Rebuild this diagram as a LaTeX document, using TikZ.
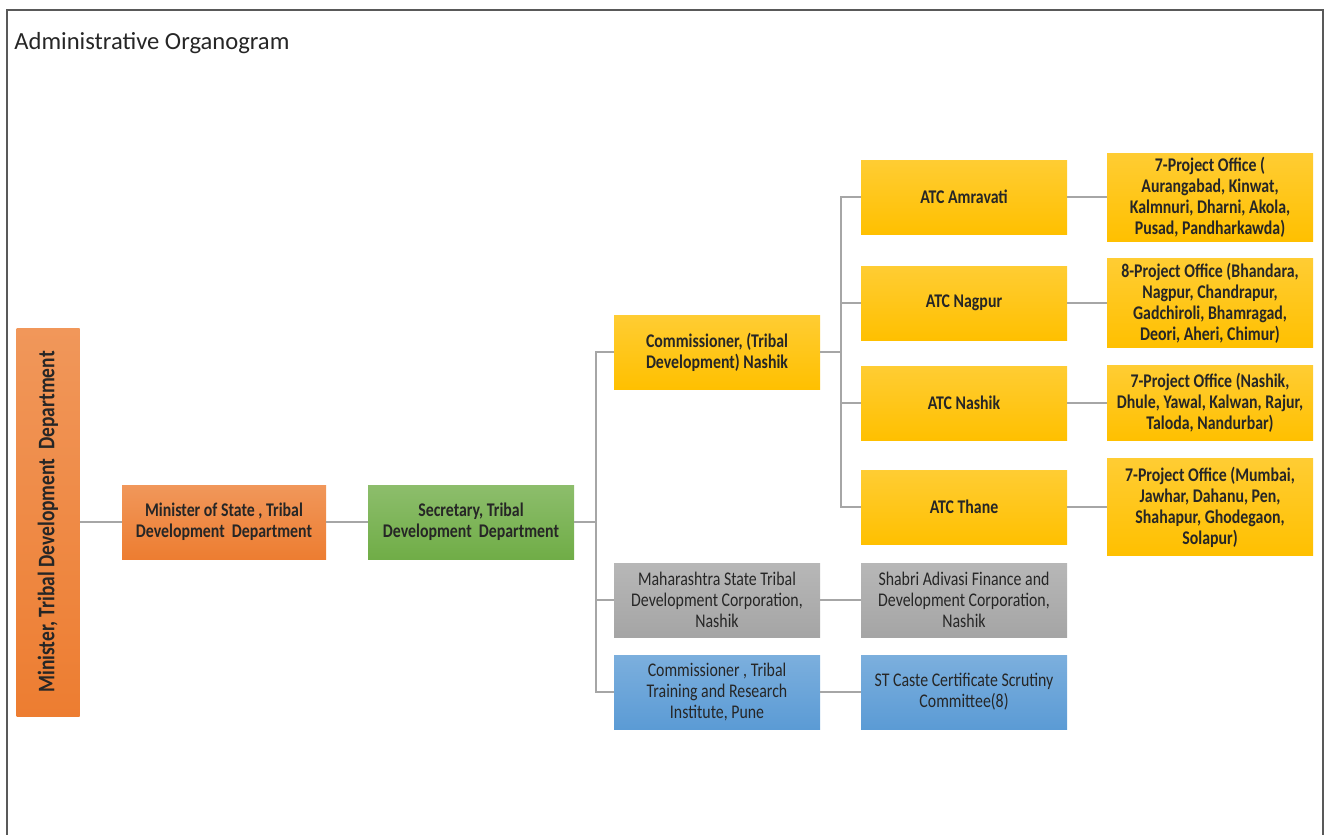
\documentclass[tikz,border=0pt]{standalone}
\usepackage{fontspec}
\setmainfont{Carlito}
\newfontfamily\boxfont{Carlito}[FakeStretch=0.82]
\usepackage{tikz}
\usetikzlibrary{positioning}
\definecolor{orgorange}{HTML}{ED7D31}
\definecolor{orggreen}{HTML}{70AD47}
\definecolor{orggold}{HTML}{FFC000}
\definecolor{orggray}{HTML}{A5A5A5}
\definecolor{orgblue}{HTML}{5B9BD5}
\definecolor{linegray}{HTML}{A6A6A6}
\definecolor{framegray}{HTML}{595959}
\tikzstyle{box2} = [rectangle, align=center, inner sep=2pt, minimum width=4.12cm, minimum height=1.48cm, text=black!85, font=\boxfont\bfseries\fontsize{11}{12}\selectfont]
\tikzstyle{minister2} = [box2, top color=orgorange!80!white, bottom color=orgorange]
\tikzstyle{secretary2} = [box2, top color=orggreen!80!white, bottom color=orggreen]
\tikzstyle{office2} = [box2, top color=orggold!80!white, bottom color=orggold]
\tikzstyle{corp2} = [box2, top color=orggray!80!white, bottom color=orggray, font=\boxfont\fontsize{11}{12}\selectfont]
\tikzstyle{inst2} = [box2, top color=orgblue!80!white, bottom color=orgblue, font=\boxfont\fontsize{11}{12}\selectfont]
\tikzstyle{line2} = [draw=linegray, line width=1.1pt]
\tikzstyle{frame2} = [draw=framegray, line width=1.2pt]

\begin{document}
\begin{tikzpicture}
            \useasboundingbox (0,0) rectangle (26.5,-16.68);
            \draw [frame2] (0.14,-16.9) -- (0.14,-0.2) -- (26.46,-0.2) -- (26.46,-16.9);
            \node (title) [anchor=west, inner sep=0pt, text=black!85, font=\fontsize{14}{16}\selectfont] at (0.28,-0.86) {Administrative Organogram};

            % Nodes
            \node (minister) [minister2, rotate=90, minimum width=7.76cm, minimum height=1.26cm, font=\boxfont\bfseries\fontsize{13.5}{15}\selectfont] at (0.96,-10.44) {Minister, Tribal Development~ Department};
            \node (mos) [minister2, right of=minister, node distance=3.52cm, minimum width=4.08cm] {Minister of State , Tribal\\ Development~ Department};
            \node (sec) [secretary2, right of=mos, node distance=4.94cm] {Secretary, Tribal\\ Development~ Department};

            \node (comm) [office2, right of=sec, node distance=4.92cm, yshift=3.4cm] {Commissioner, (Tribal\\ Development) Nashik};
            \node (mah) [corp2, below of=comm, node distance=4.96cm] {Maharashtra State Tribal\\ Development Corporation,\\ Nashik};
            \node (pune) [inst2, below of=mah, node distance=1.84cm] {Commissioner , Tribal\\ Training and Research\\ Institute, Pune};

            \node (atcA) [office2, right of=comm, node distance=4.94cm, yshift=3.1cm] {ATC Amravati};
            \node (atcN) [office2, below of=atcA, node distance=2.12cm] {ATC Nagpur};
            \node (atcK) [office2, below of=atcN, node distance=2.0cm] {ATC Nashik};
            \node (atcT) [office2, below of=atcK, node distance=2.08cm] {ATC Thane};

            \node (projA) [office2, right of=atcA, node distance=4.92cm, minimum height=1.76cm] {7-Project Office (\\ Aurangabad, Kinwat,\\ Kalmnuri, Dharni, Akola,\\ Pusad, Pandharkawda)};
            \node (projN) [office2, right of=atcN, node distance=4.92cm, minimum height=1.78cm] {8-Project Office (Bhandara,\\ Nagpur, Chandrapur,\\ Gadchiroli, Bhamragad,\\ Deori, Aheri, Chimur)};
            \node (projK) [office2, right of=atcK, node distance=4.92cm, minimum height=1.5cm] {7-Project Office (Nashik,\\ Dhule, Yawal, Kalwan, Rajur,\\ Taloda, Nandurbar)};
            \node (projT) [office2, right of=atcT, node distance=4.92cm, minimum height=1.94cm] {7-Project Office (Mumbai,\\ Jawhar, Dahanu, Pen,\\ Shahapur, Ghodegaon,\\ Solapur)};

            \node (shabri) [corp2, right of=mah, node distance=4.94cm] {Shabri Adivasi Finance and\\ Development Corporation,\\ Nashik};
            \node (st) [inst2, right of=pune, node distance=4.94cm] {ST Caste Certificate Scrutiny\\ Committee(8)};

            \node (split1) [coordinate, left of=comm, node distance=2.42cm, yshift=-3.4cm] {};
            \node (split2) [coordinate, right of=comm, node distance=2.48cm] {};

            % Edges
            \draw [line2] (minister) -- (mos);
            \draw [line2] (mos) -- (sec);
            \draw [line2] (sec) -- (split1);
            \draw [line2] (split1) |- (comm);
            \draw [line2] (split1) |- (mah);
            \draw [line2] (split1) |- (pune);
            \draw [line2] (comm) -- (split2);
            \draw [line2] (split2) |- (atcA);
            \draw [line2] (split2) |- (atcN);
            \draw [line2] (split2) |- (atcK);
            \draw [line2] (split2) |- (atcT);
            \draw [line2] (atcA) -- (projA);
            \draw [line2] (atcN) -- (projN);
            \draw [line2] (atcK) -- (projK);
            \draw [line2] (atcT) -- (projT);
            \draw [line2] (mah) -- (shabri);
            \draw [line2] (pune) -- (st);
        \end{tikzpicture}
\end{document}
